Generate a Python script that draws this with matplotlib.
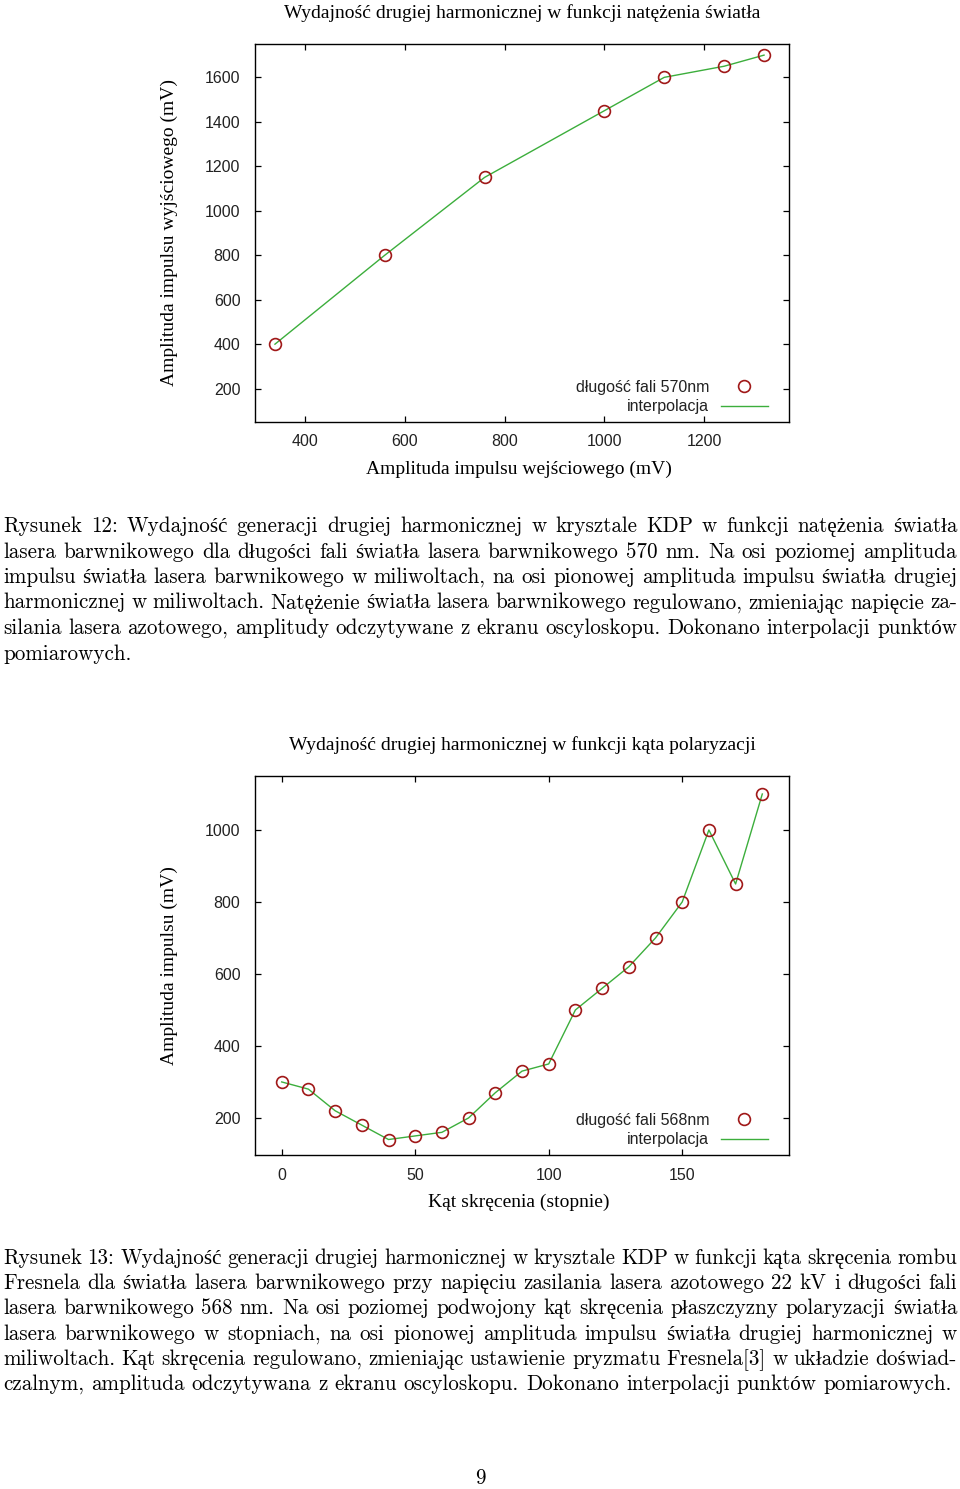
import matplotlib
matplotlib.use('Agg')
import matplotlib.pyplot as plt

# Wykres 1: dlugosc fali 570 nm
amp_we = [340, 560, 760, 1000, 1120, 1240, 1320]
amp_wy = [400, 800, 1150, 1450, 1600, 1650, 1700]
xt1 = [400, 600, 800, 1000, 1200]
yt1 = [200, 400, 600, 800, 1000, 1200, 1400, 1600]

# Wykres 2: dlugosc fali 568 nm
kat = [0, 10, 20, 30, 40, 50, 60, 70, 80, 90, 100, 110, 120, 130, 140, 150, 160, 170, 180]
amp_kat = [300, 280, 220, 180, 140, 150, 160, 200, 270, 330, 350, 500, 560, 620, 700, 800, 1000, 850, 1100]
xt2 = [0, 50, 100, 150]
yt2 = [200, 400, 600, 800, 1000]

podpis12 = [
    'Rysunek 12: Wydajność generacji drugiej harmonicznej w krysztale KDP w funkcji natężenia światła',
    'lasera barwnikowego dla długości fali światła lasera barwnikowego 570 nm. Na osi poziomej amplituda',
    'impulsu światła lasera barwnikowego w miliwoltach, na osi pionowej amplituda impulsu światła drugiej',
    'harmonicznej w miliwoltach. Natężenie światła lasera barwnikowego regulowano, zmieniając napięcie za-',
    'silania lasera azotowego, amplitudy odczytywane z ekranu oscyloskopu. Dokonano interpolacji punktów',
    'pomiarowych.',
]
podpis13 = [
    'Rysunek 13: Wydajność generacji drugiej harmonicznej w krysztale KDP w funkcji kąta skręcenia rombu',
    'Fresnela dla światła lasera barwnikowego przy napięciu zasilania lasera azotowego 22 kV i długości fali',
    'lasera barwnikowego 568 nm. Na osi poziomej podwojony kąt skręcenia płaszczyzny polaryzacji światła',
    'lasera barwnikowego w stopniach, na osi pionowej amplituda impulsu światła drugiej harmonicznej w',
    'miliwoltach. Kąt skręcenia regulowano, zmieniając ustawienie pryzmatu Fresnela[3] w układzie doświad-',
    'czalnym, amplituda odczytywana z ekranu oscyloskopu. Dokonano interpolacji punktów pomiarowych.',
]

W, H = 960, 1489
serif = ['Liberation Serif', 'DejaVu Serif']
sans = ['Liberation Sans', 'DejaVu Sans']
tex = ['cmr10', 'Liberation Serif', 'DejaVu Serif']
czerwony = '#a01818'
zielony = '#3cae3c'

fig = plt.figure(figsize=(W / 100, H / 100), dpi=100)
fig.patch.set_facecolor('white')


def wykres(pos, x, y, etykieta, xlim, ylim, xt, yt, xlabel, ylabel, tytul):
    ax = fig.add_axes(pos)
    ax.plot(x, y, 'o', mfc='none', mec=czerwony, mew=1.2, ms=8.5, zorder=3, label=etykieta)
    ax.plot(x, y, '-', color=zielony, lw=1.0, zorder=2, label='interpolacja')
    ax.set_xlim(*xlim)
    ax.set_ylim(*ylim)
    ax.set_xticks(xt)
    ax.set_yticks(yt)
    ax.tick_params(direction='in', top=True, right=True, length=4.5, width=0.9,
                   labelsize=11.5, labelcolor='#222222')
    ax.tick_params(axis='y', pad=10.5)
    ax.tick_params(axis='x', pad=9)
    for t in ax.get_xticklabels() + ax.get_yticklabels():
        t.set_family(sans)
    for s in ax.spines.values():
        s.set_linewidth(1.0)
    ax.set_xlabel(xlabel, family=serif, fontsize=14, va='center')
    ax.xaxis.set_label_coords(0.494, -0.125)
    ax.set_ylabel(ylabel, family=serif, fontsize=14, va='center')
    ax.yaxis.set_label_coords(-0.16, 0.5)
    ax.set_title(tytul, family=serif, fontsize=14, pad=19)
    leg = ax.legend(loc='lower right', bbox_to_anchor=(0.96, 0.02), frameon=False,
                    markerfirst=False, borderaxespad=0, borderpad=0,
                    handlelength=2.9, handletextpad=0.75, labelspacing=0.3,
                    prop={'family': sans, 'size': 11.5})
    for t in leg.get_texts():
        t.set_color('#222222')
    return ax


ax1 = wykres([255 / W, 1 - 422 / H, 534 / W, 378 / H], amp_we, amp_wy, 'długość fali 570nm',
             (300, 1370), (50, 1750), xt1, yt1,
             'Amplituda impulsu wejściowego (mV)', 'Amplituda impulsu wyjściowego (mV)',
             'Wydajność drugiej harmonicznej w funkcji natężenia światła')
ax2 = wykres([255 / W, 1 - 1155 / H, 534 / W, 379 / H], kat, amp_kat, 'długość fali 568nm',
             (-10, 190), (97, 1150), xt2, yt2,
             'Kąt skręcenia (stopnie)', 'Amplituda impulsu (mV)',
             'Wydajność drugiej harmonicznej w funkcji kąta polaryzacji')

# Podpisy wyjustowane jak w LaTeX-u
renderer = fig.canvas.get_renderer()
lewy, prawy = 3, 957
fs = 15.2


def podpis(linie, baza, krok):
    probka = fig.text(0, 0, 'a a', family=tex, fontsize=fs)
    probka2 = fig.text(0, 0, 'aa', family=tex, fontsize=fs)
    spacja = probka.get_window_extent(renderer).width - probka2.get_window_extent(renderer).width
    probka.remove()
    probka2.remove()
    for i, linia in enumerate(linie):
        y = 1 - (baza + i * krok) / H
        slowa = linia.split(' ')
        teksty = [fig.text(0, y, s, family=tex, fontsize=fs, va='baseline') for s in slowa]
        szer = [t.get_window_extent(renderer).width for t in teksty]
        if i < len(linie) - 1 and len(slowa) > 1:
            odstep = (prawy - lewy - sum(szer)) / (len(slowa) - 1)
        else:
            odstep = spacja
        x = lewy
        for t, s in zip(teksty, szer):
            t.set_x(x / W)
            x += s + odstep


podpis(podpis12, 532, 25.5)
podpis(podpis13, 1264, 25.2)

fig.text(480 / W, 1 - 1484 / H, '9', family=tex, fontsize=fs, ha='center', va='baseline')

fig.savefig('out.png', dpi=100)
